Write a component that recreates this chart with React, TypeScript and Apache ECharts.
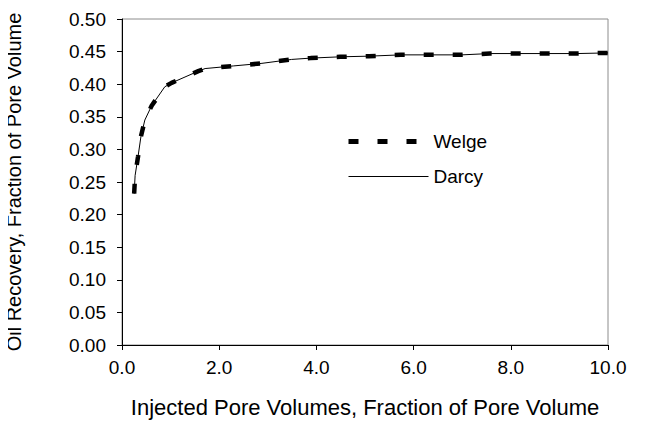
import React, { useEffect, useRef } from "react";
import * as echarts from "echarts";

const xValues = [0.25, 0.27, 0.33, 0.39, 0.47, 0.61, 0.88, 1.02, 1.57, 1.71, 2.29, 2.88, 3.49, 3.88, 4.49, 5.08, 5.74, 6.39, 6.99, 7.57, 8.17, 8.77, 9.36, 10.0];
const welgeValues = [0.232, 0.26, 0.289, 0.32, 0.345, 0.367, 0.396, 0.402, 0.42, 0.424, 0.428, 0.432, 0.438, 0.44, 0.442, 0.443, 0.445, 0.445, 0.445, 0.447, 0.447, 0.447, 0.447, 0.448];
const darcyValues = [0.232, 0.26, 0.289, 0.32, 0.345, 0.367, 0.396, 0.402, 0.42, 0.424, 0.428, 0.432, 0.438, 0.44, 0.442, 0.443, 0.445, 0.445, 0.445, 0.447, 0.447, 0.447, 0.447, 0.448];
const seriesNames = ["Welge", "Darcy"];
const xTitle = "Injected Pore Volumes, Fraction of Pore Volume";
const yTitle = "Oil Recovery, Fraction of Pore Volume";

const FONT = "'Liberation Sans', Arial, sans-serif";
const FS = 19;

export default function App() {
  const ref = useRef<HTMLDivElement>(null);
  useEffect(() => {
    if (!ref.current) return;
    const chart = echarts.init(ref.current, undefined, { renderer: "svg" });
    const welge = xValues.map((x, i) => [x, welgeValues[i]]);
    const darcy = xValues.map((x, i) => [x, darcyValues[i]]);
    chart.setOption({
      animation: false,
      backgroundColor: "#ffffff",
      textStyle: { fontFamily: FONT, color: "#000" },
      grid: {
        left: 122,
        right: 40,
        top: 19,
        bottom: 100,
        show: true,
        borderColor: "#8c8c8c",
        borderWidth: 1,
        backgroundColor: "transparent",
        containLabel: false,
        outerBoundsMode: "none",
      },
      legend: {
        orient: "vertical",
        left: 341,
        top: 127,
        itemWidth: 80,
        itemHeight: 20,
        itemGap: 16,
        itemStyle: { opacity: 0 },
        textStyle: { fontFamily: FONT, fontSize: FS, color: "#000" },
        data: [
          { name: seriesNames[0], lineStyle: { color: "#000", width: 5, type: [10, 19] } },
          { name: seriesNames[1], lineStyle: { color: "#000", width: 1, type: "solid" } },
        ],
      },
      xAxis: {
        type: "value",
        min: 0,
        max: 10,
        interval: 2,
        name: xTitle,
        nameLocation: "middle",
        nameGap: 51,
        nameTextStyle: { fontFamily: FONT, fontSize: 22, color: "#000" },
        axisLine: { show: true, lineStyle: { color: "#000", width: 1 } },
        axisTick: { show: true, inside: false, length: 5, lineStyle: { color: "#000" } },
        axisLabel: {
          fontFamily: FONT,
          fontSize: FS,
          color: "#000",
          margin: 13,
          formatter: (v: number) => v.toFixed(1),
        },
        splitLine: { show: false },
      },
      yAxis: {
        type: "value",
        min: 0,
        max: 0.5,
        interval: 0.05,
        name: yTitle,
        nameLocation: "middle",
        nameGap: 98,
        nameRotate: 90,
        nameTextStyle: { fontFamily: FONT, fontSize: 20, color: "#000" },
        axisLine: { show: true, lineStyle: { color: "#000", width: 1 } },
        axisTick: { show: true, inside: false, length: 5, lineStyle: { color: "#000" } },
        axisLabel: {
          fontFamily: FONT,
          fontSize: FS,
          color: "#000",
          margin: 16,
          formatter: (v: number) => v.toFixed(2),
        },
        splitLine: { show: false },
      },
      series: [
        {
          name: seriesNames[0],
          type: "line",
          data: welge,
          showSymbol: false,
          symbol: "none",
          lineStyle: { color: "#000", width: 4.5, type: [10, 19] },
          itemStyle: { color: "#000" },
          z: 2,
        },
        {
          name: seriesNames[1],
          type: "line",
          data: darcy,
          showSymbol: false,
          symbol: "none",
          lineStyle: { color: "#000", width: 1, type: "solid" },
          itemStyle: { color: "#000" },
          z: 3,
        },
      ],
    });
    return () => chart.dispose();
  }, []);
  return <div ref={ref} style={{ width: 648, height: 445, margin: -8 }} />;
}
